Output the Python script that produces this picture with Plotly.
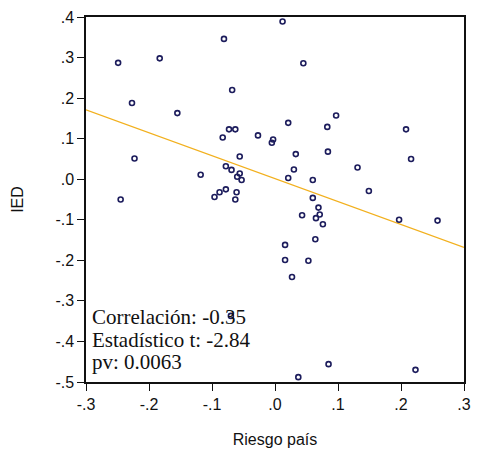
import numpy as np
import plotly.graph_objects as go

# Riesgo país (x) and IED (y)
riesgo = [-0.249, -0.183, -0.081, -0.227, -0.155, -0.068, -0.073, -0.063, -0.083, -0.223,
          -0.118, -0.078, -0.069, -0.056, -0.056, -0.060, -0.053, -0.245, -0.096, -0.088,
          -0.078, -0.063, -0.061, -0.027, 0.021, 0.083, 0.097, -0.005, -0.003, 0.033,
          0.084, 0.030, 0.021, 0.060, 0.060, 0.069, 0.043, 0.071, 0.065, 0.076,
          0.208, 0.216, 0.131, 0.149, 0.197, 0.258, 0.016, 0.064, 0.016, 0.053,
          0.027, 0.012, 0.045, 0.085, 0.037, 0.223, -0.070]
ied = [0.287, 0.298, 0.346, 0.188, 0.163, 0.220, 0.123, 0.123, 0.103, 0.051,
       0.011, 0.032, 0.023, 0.056, 0.014, 0.006, -0.002, -0.050, -0.044, -0.032,
       -0.025, -0.050, -0.032, 0.108, 0.139, 0.129, 0.157, 0.090, 0.098, 0.062,
       0.068, 0.024, 0.003, -0.002, -0.046, -0.070, -0.089, -0.087, -0.096, -0.111,
       0.123, 0.050, 0.029, -0.029, -0.100, -0.102, -0.162, -0.148, -0.199, -0.201,
       -0.241, 0.389, 0.286, -0.456, -0.488, -0.470, -0.337]

x_ticks = [-0.3, -0.2, -0.1, 0.0, 0.1, 0.2, 0.3]
x_labels = ["-.3", "-.2", "-.1", ".0", ".1", ".2", ".3"]
y_ticks = [-0.5, -0.4, -0.3, -0.2, -0.1, 0.0, 0.1, 0.2, 0.3, 0.4]
y_labels = ["-.5", "-.4", "-.3", "-.2", "-.1", ".0", ".1", ".2", ".3", ".4"]

stats_lines = ["Correlación: -0.35", "Estadístico t: -2.84", "pv: 0.0063"]

x_range = [-0.3, 0.3]
slope, intercept = np.polyfit(riesgo, ied, 1)
fit_x = np.array(x_range)
fit_y = intercept + slope * fit_x

fig = go.Figure()
fig.add_trace(go.Scatter(
    x=fit_x, y=fit_y, mode="lines",
    line=dict(color="#f2b01e", width=1.3),
    hoverinfo="skip", showlegend=False))
fig.add_trace(go.Scatter(
    x=riesgo, y=ied, mode="markers",
    marker=dict(symbol="circle-open", size=5, color="#1c1c5c",
                line=dict(width=1.6, color="#1c1c5c")),
    showlegend=False))

line_gap = 22.5
for i, txt in enumerate(reversed(stats_lines)):
    fig.add_annotation(
        x=0, y=0, xref="paper", yref="paper", xanchor="left", yanchor="bottom",
        xshift=4, yshift=6 + i * line_gap,
        text=txt, showarrow=False, align="left",
        font=dict(family="Liberation Serif", size=21, color="#111111"))

axis_common = dict(
    showgrid=False, zeroline=False, showline=True, linecolor="#111111",
    linewidth=1.5, mirror=True, ticks="outside", ticklen=7, tickwidth=1,
    tickcolor="#111111",
    tickfont=dict(family="Liberation Sans", size=16, color="#111111"))

fig.update_xaxes(range=x_range, tickvals=x_ticks, ticktext=x_labels,
                 title=dict(text="Riesgo país", standoff=22,
                            font=dict(family="Liberation Sans", size=16, color="#111111")),
                 **axis_common)
fig.update_yaxes(range=[-0.5, 0.4], tickvals=y_ticks, ticktext=y_labels,
                 title=dict(text="IED", standoff=28,
                            font=dict(family="Liberation Sans", size=16, color="#111111")),
                 **axis_common)

fig.update_layout(
    width=480, height=458,
    margin=dict(l=86, r=9, t=13, b=76),
    paper_bgcolor="white", plot_bgcolor="white",
)

fig.write_html("out.html")
